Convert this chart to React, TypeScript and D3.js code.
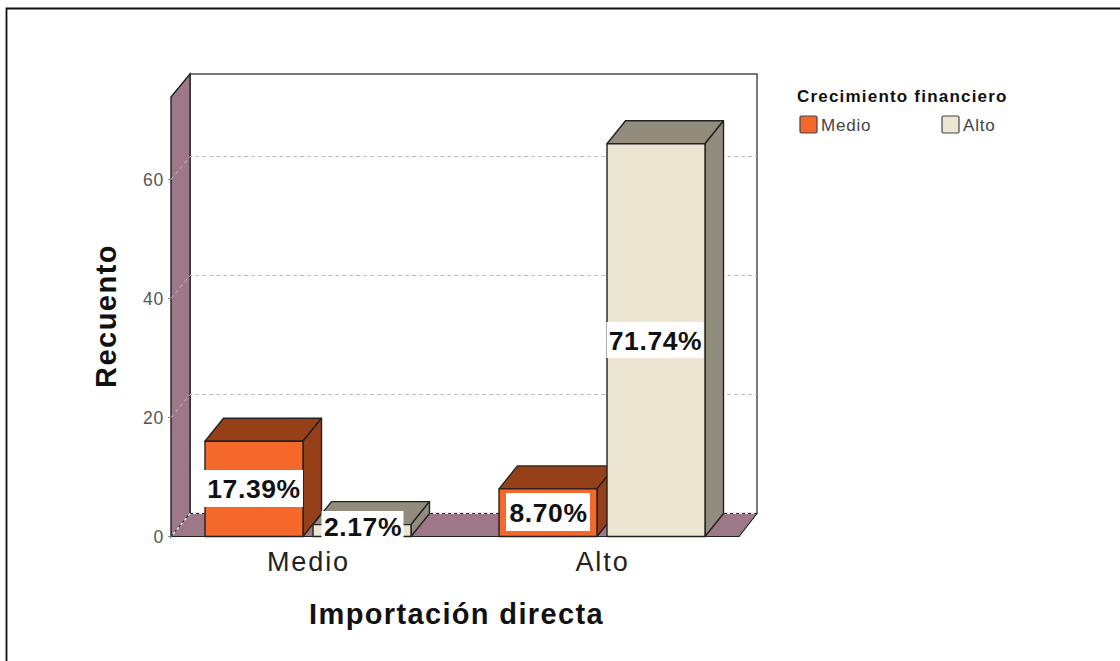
import React from "react";
import * as d3 from "d3";

const categories = ["Medio", "Alto"];
const seriesNames = ["Medio", "Alto"];
const medioCounts = [16, 8];
const altoCounts = [2, 66];
const medioLabels = ["17.39%", "8.70%"];
const altoLabels = ["2.17%", "71.74%"];
const yTicks = [0, 20, 40, 60];
const FONT = "'Liberation Sans', Arial, sans-serif";

const colors: Record<string, { front: string; dark: string }> = {
  Medio: { front: "#f5682b", dark: "#964019" },
  Alto: { front: "#ebe5d1", dark: "#918c7c" },
};
const WALL = "#9e7789";
const LINE = "#222";

const DX = 19, DY = -23; // plot depth
const BDX = 18.5, BDY = -23; // bar depth
const X0 = 171, X1 = 739;
const y = d3.scaleLinear().domain([0, 66]).range([536.5, 143.8]);
const groupX = d3.scaleBand<string>().domain(categories).range([171, 759]);
const innerX = d3.scaleBand<string>().domain(seriesNames).range([34, 240]).paddingInner(10 / 108);
const barW = innerX.bandwidth();

function poly(pts: number[][]) {
  return (d3.line()(pts as [number, number][]) || "") + "Z";
}

function Bar({ x, v, name }: { x: number; v: number; name: string }) {
  const top = y(v), base = y(0), r = x + barW;
  const c = colors[name];
  return (
    <g stroke={LINE} strokeWidth={1.4} strokeLinejoin="round">
      <path d={poly([[x, top], [x + BDX, top + BDY], [r + BDX, top + BDY], [r, top]])} fill={c.dark} />
      <path d={poly([[r, top], [r + BDX, top + BDY], [r + BDX, base + BDY], [r, base]])} fill={c.dark} />
      <rect x={x} y={top} width={barW} height={base - top} fill={c.front} />
    </g>
  );
}

function Label({ cx, cy, w, h, text }: { cx: number; cy: number; w: number; h: number; text: string }) {
  return (
    <g>
      <rect x={cx - w / 2} y={cy - h / 2} width={w} height={h} fill="#fff" />
      <text x={cx + 0.5} y={cy + 9.5} textAnchor="middle" fontFamily={FONT} fontWeight={700} fontSize={26.5} letterSpacing={0.6} fill="#111">{text}</text>
    </g>
  );
}

export default function App() {
  const base = y(0);
  const topFront = 97;
  const labelPos = [
    [{ dx: -0.5, cy: 488.5, w: 99, h: 37 }, { dx: 0.5, cy: 526, w: 82, h: 30 }],
    [{ dx: 0, cy: 512, w: 84, h: 38 }, { dx: -1, cy: 340, w: 97, h: 36 }],
  ];
  const barX = (c: string, s: string) => groupX(c)! + innerX(s)!;
  return (
    <svg width={1120} height={661} style={{ position: "fixed", left: 0, top: 0, background: "#fff" }}>
      <path d="M6.5 661V8.5H1120" fill="none" stroke="#111" strokeWidth={1.8} />

      {/* back wall */}
      <rect x={X0 + DX} y={topFront - 23} width={X1 - X0 - 1} height={base + DY - (topFront - 23)} fill="#fff" stroke={LINE} strokeWidth={1.2} />
      {/* left wall */}
      <path d={poly([[X0, topFront], [X0 + DX, topFront + DY], [X0 + DX, base + DY], [X0, base]])} fill={WALL} stroke={LINE} strokeWidth={1.4} />
      {/* floor */}
      <path d={poly([[X0, base], [X0 + DX, base + DY], [X1 + 18, base + DY], [X1, base]])} fill={WALL} stroke="none" />
      <path d={`M${X0} ${base}H${X1}L${X1 + 18} ${base + DY}`} fill="none" stroke={LINE} strokeWidth={1.2} />
      <path d={`M${X0} ${base}L${X0 + DX} ${base + DY}H${X1 + 18}`} fill="none" stroke="#fff" strokeWidth={1.2} />
      <path d={`M${X0} ${base}L${X0 + DX} ${base + DY}H${X1 + 18}`} fill="none" stroke="#222" strokeWidth={1.2} strokeDasharray="3 3" />

      {/* gridlines */}
      {yTicks.filter((t) => t > 0).map((t) => (
        <path key={t} d={`M${X0} ${y(t)}L${X0 + DX} ${y(t) + DY}H${X1 + 18}`} fill="none" stroke="#bdbdbd" strokeWidth={1} strokeDasharray="4 3" />
      ))}
      {/* y ticks */}
      {yTicks.map((t) => (
        <g key={t}>
          <line x1={X0 - 3} x2={X0} y1={y(t)} y2={y(t)} stroke="#888" />
          <text x={X0 - 7} y={y(t) + 6.5} textAnchor="end" fontFamily={FONT} fontSize={17.5} letterSpacing={0.8} fill="#555">{t}</text>
        </g>
      ))}

      {/* bars */}
      {categories.map((c, i) => (
        <g key={c}>
          <Bar x={barX(c, seriesNames[0])} v={medioCounts[i]} name={seriesNames[0]} />
          <Bar x={barX(c, seriesNames[1])} v={altoCounts[i]} name={seriesNames[1]} />
        </g>
      ))}
      {categories.map((c, i) => {
        const [a, b] = labelPos[i];
        return (
          <g key={c}>
            <Label cx={barX(c, seriesNames[0]) + barW / 2 + a.dx} cy={a.cy} w={a.w} h={a.h} text={medioLabels[i]} />
            <Label cx={barX(c, seriesNames[1]) + barW / 2 + b.dx} cy={b.cy} w={b.w} h={b.h} text={altoLabels[i]} />
          </g>
        );
      })}

      {/* category labels */}
      {categories.map((c) => (
        <text key={c} x={groupX(c)! + 137 + 0.5} y={571} textAnchor="middle" fontFamily={FONT} fontSize={27} letterSpacing={1.9} fill="#222">{c}</text>
      ))}
      <text x={456.5} y={624} textAnchor="middle" fontFamily={FONT} fontWeight={700} fontSize={29} letterSpacing={1.35} fill="#111">Importación directa</text>
      <text transform="translate(116,316) rotate(-90)" textAnchor="middle" fontFamily={FONT} fontWeight={700} fontSize={29} letterSpacing={1.5} fill="#111">Recuento</text>

      {/* legend */}
      <text x={797} y={102} fontFamily={FONT} fontWeight={700} fontSize={17} letterSpacing={1.2} fill="#111">Crecimiento financiero</text>
      {seriesNames.map((s, i) => {
        const lx = i === 0 ? 800 : 942;
        return (
          <g key={s}>
            <rect x={lx} y={116} width={17} height={17} rx={1.5} fill={colors[s].front} stroke="#444" strokeWidth={1.2} />
            <text x={lx + 21} y={131} fontFamily={FONT} fontSize={17} letterSpacing={0.8} fill="#444">{s}</text>
          </g>
        );
      })}
    </svg>
  );
}
